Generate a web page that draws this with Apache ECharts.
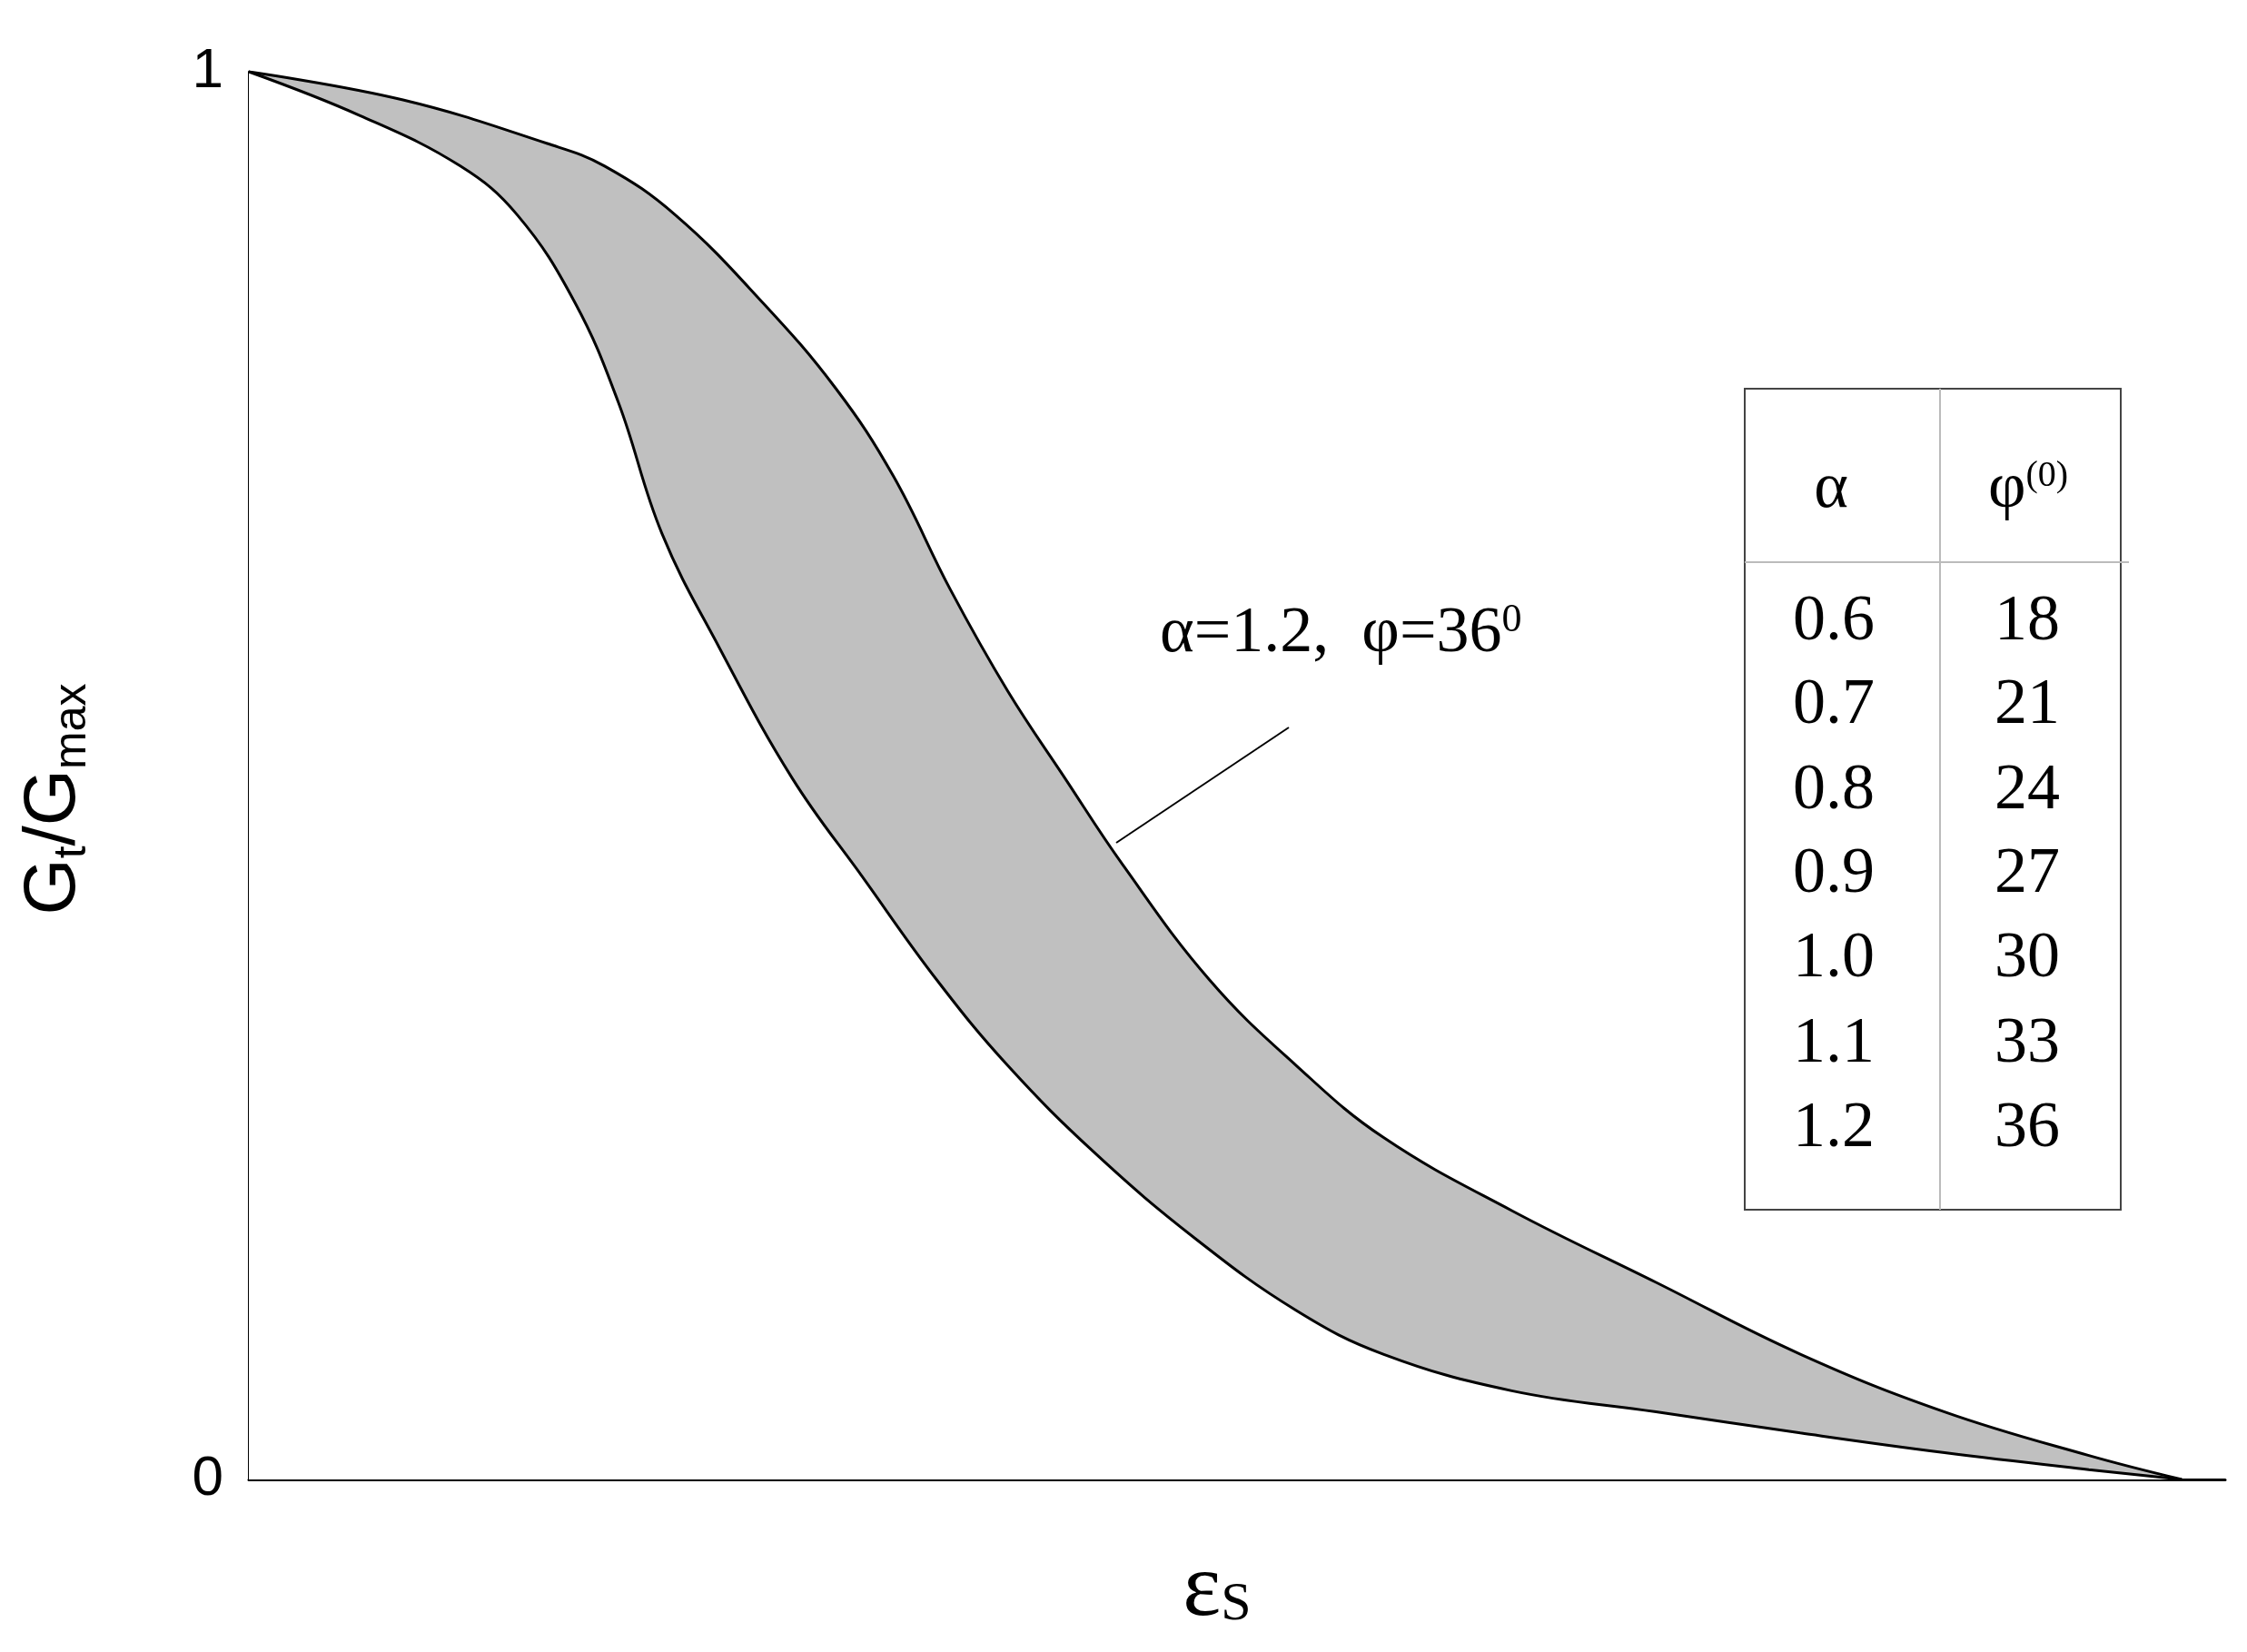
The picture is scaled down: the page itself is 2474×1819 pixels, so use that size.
<!DOCTYPE html>
<html>
<head>
<meta charset="utf-8">
<script src="https://cdn.jsdelivr.net/npm/echarts@6/dist/echarts.min.js"></script>
<style>html,body{margin:0;padding:0;background:#fff;}#chart{width:2474px;height:1819px;}</style>
</head>
<body>
<div id="chart"></div>
<script>
// upper boundary (alpha=1.2, phi=36)
let upperX = [0, 0.078, 0.151, 0.180, 0.216, 0.260, 0.297, 0.326, 0.355, 0.384, 0.413, 0.442, 0.486, 0.530, 0.574, 0.639, 0.712, 0.785, 0.858, 0.931, 0.978];
let upperY = [1, 0.980, 0.949, 0.933, 0.898, 0.836, 0.775, 0.713, 0.632, 0.560, 0.498, 0.437, 0.355, 0.294, 0.243, 0.191, 0.140, 0.089, 0.048, 0.017, 0];
// lower boundary (alpha=0.6, phi=18)
let lowerX = [0, 0.056, 0.107, 0.136, 0.165, 0.187, 0.209, 0.238, 0.275, 0.311, 0.348, 0.384, 0.428, 0.479, 0.530, 0.574, 0.639, 0.712, 0.785, 0.858, 0.931, 0.978];
let lowerY = [1, 0.969, 0.933, 0.898, 0.836, 0.765, 0.672, 0.591, 0.498, 0.427, 0.355, 0.294, 0.232, 0.171, 0.120, 0.089, 0.063, 0.048, 0.033, 0.019, 0.007, 0];
// table
let alphas = ["0.6", "0.7", "0.8", "0.9", "1.0", "1.1", "1.2"];
let phis = ["18", "21", "24", "27", "30", "33", "36"];

let serif = "Liberation Serif";
let zip = (xs, ys) => xs.map((x, i) => [x, ys[i]]);

let chart = echarts.init(document.getElementById("chart"));

let graphics = [
    // y axis title
    {type: "text", x: 60, y: 880, rotation: Math.PI / 2,
     style: {text: "{a|G}{s|t}{a|/G}{s|max}", align: "center", verticalAlign: "middle",
        rich: {a: {fontSize: 80, fontFamily: "Liberation Sans", fill: "#000"},
               s: {fontSize: 50, fontFamily: "Liberation Sans", fill: "#000", padding: [40, 0, 0, 0]}}}},
    // x axis title
    {type: "text", x: 1340, y: 1752,
     style: {text: "{a|ε}{s|S}", align: "center", verticalAlign: "middle",
        rich: {a: {fontSize: 100, fontFamily: serif, fill: "#000"},
               s: {fontSize: 60, fontFamily: serif, fill: "#000", padding: [30, 0, 0, 0]}}}},
    // annotations
    {type: "text", x: 1277, y: 698,
     style: {text: "{a|α=1.2,  φ=36}{s|0}", verticalAlign: "middle",
        rich: {a: {fontSize: 72, fontFamily: serif, fill: "#000"},
               s: {fontSize: 44, fontFamily: serif, fill: "#000", padding: [0, 0, 30, 0]}}}},
    {type: "line", shape: {x1: 1229, y1: 928, x2: 1419, y2: 801}, style: {stroke: "#000", lineWidth: 2}},
    {type: "text", x: 495, y: 1229,
     style: {text: "{a|α=0.6,  φ=18}{s|0}", verticalAlign: "middle",
        rich: {a: {fontSize: 72, fontFamily: serif, fill: "#000"},
               s: {fontSize: 44, fontFamily: serif, fill: "#000", padding: [0, 0, 30, 0]}}}},
    {type: "line", shape: {x1: 904, y1: 1166, x2: 1015, y2: 1094}, style: {stroke: "#bbb", lineWidth: 2}},
    // table frame
    {type: "rect", shape: {x: 1921, y: 428, width: 414, height: 904}, style: {fill: "none", stroke: "#444", lineWidth: 2}},
    {type: "line", shape: {x1: 2136, y1: 428, x2: 2136, y2: 1332}, style: {stroke: "#bbb", lineWidth: 2}},
    {type: "line", shape: {x1: 1921, y1: 619, x2: 2344, y2: 619}, style: {stroke: "#bbb", lineWidth: 2}},
    {type: "text", x: 2016, y: 539, style: {text: "α", fontSize: 72, fontFamily: serif, fill: "#000", align: "center", verticalAlign: "middle"}},
    {type: "text", x: 2233, y: 539,
     style: {text: "{a|φ}{s|(0)}", align: "center", verticalAlign: "middle",
        rich: {a: {fontSize: 72, fontFamily: serif, fill: "#000"},
               s: {fontSize: 40, fontFamily: serif, fill: "#000", padding: [0, 0, 30, 0]}}}}
];
let rowY = [685, 777, 871, 963, 1056, 1150, 1243];
alphas.forEach((a, i) => {
    graphics.push({type: "text", x: 2019, y: rowY[i], style: {text: a, fontSize: 72, fontFamily: serif, fill: "#000", align: "center", verticalAlign: "middle"}});
    graphics.push({type: "text", x: 2232, y: rowY[i], style: {text: phis[i], fontSize: 72, fontFamily: serif, fill: "#000", align: "center", verticalAlign: "middle"}});
});

let option = {
    animation: false,
    backgroundColor: "#fff",
    grid: {left: 274, top: 79, right: 24, bottom: 190},
    xAxis: {
        type: "value", min: 0, max: 1,
        axisLine: {lineStyle: {color: "#000", width: 3}},
        axisTick: {show: false}, axisLabel: {show: false}, splitLine: {show: false}
    },
    yAxis: {
        type: "value", min: 0, max: 1, interval: 1,
        axisLine: {show: true, lineStyle: {color: "#000", width: 3}},
        axisTick: {show: false}, splitLine: {show: false},
        axisLabel: {fontSize: 62, fontFamily: "Liberation Sans", color: "#000", margin: 28}
    },
    series: [
        {type: "line", data: zip(upperX, upperY), smooth: 0.4, symbol: "none",
         lineStyle: {color: "#000", width: 3}, areaStyle: {color: "#c0c0c0", opacity: 1}, z: 2},
        {type: "line", data: zip(lowerX, lowerY), smooth: 0.4, symbol: "none",
         lineStyle: {color: "#000", width: 3}, areaStyle: {color: "#fff", opacity: 1}, z: 3}
    ],
    graphic: graphics
};
chart.setOption(option);
</script>
</body>
</html>
